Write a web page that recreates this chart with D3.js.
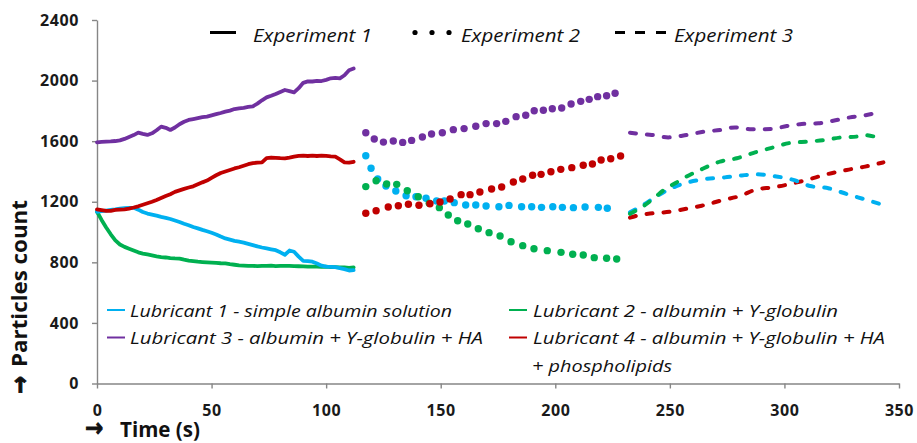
<!DOCTYPE html>
<html><head><meta charset="utf-8">
<script src="https://cdn.jsdelivr.net/npm/d3@7"></script>
<style>
html,body{margin:0;padding:0;background:#fff;}
svg{display:block;}
</style></head>
<body>
<svg id="chart" width="917" height="443"></svg>
<script>
// ---------------- DATA ----------------
const xTicks = [0, 50, 100, 150, 200, 250, 300, 350];
const yTicks = [0, 400, 800, 1200, 1600, 2000, 2400];
const lubricants = ["Lubricant 1 - simple albumin solution", "Lubricant 2 - albumin + Υ-globulin",
  "Lubricant 3 - albumin + Υ-globulin + HA", "Lubricant 4 - albumin + Υ-globulin + HA"];
const lubricant4Extra = "+ phospholipids";
const experiments = ["Experiment 1", "Experiment 2", "Experiment 3"];
const colors = ["#00B0F0", "#00B050", "#7030A0", "#C00000"];
const yTitle = "Particles count";
const xTitle = "Time (s)";

// Experiment 1 (continuous trace), common time axis (s)
const exp1Time = [0,2,4,6,8,10,12,14,16,18,20,22,24,26,28,30,32,34,36,38,40,42,44,46,48,50,52,54,56,58,60,62,64,66,68,70,72,74,76,78,80,82,84,86,88,90,92,94,96,98,100,102,104,106,108,110,112];
const exp1L1 = [1134,1138,1142,1146,1150,1155,1158,1160,1160,1148,1132,1122,1115,1108,1100,1094,1086,1076,1066,1055,1045,1033,1024,1014,1005,995,984,970,958,950,942,936,930,922,914,905,898,892,886,880,866,850,878,870,838,810,808,804,792,778,772,770,768,762,755,746,748];
const exp1L2 = [1134,1080,1030,985,945,918,902,890,878,866,858,852,846,840,835,832,828,826,825,818,812,808,804,802,800,798,796,794,793,788,784,780,778,776,777,775,776,776,778,775,776,777,776,775,774,773,772,772,771,770,771,769,768,767,766,764,766];
const exp1L3 = [1592,1595,1597,1598,1601,1605,1615,1628,1640,1656,1648,1641,1652,1672,1696,1688,1674,1690,1712,1728,1740,1746,1752,1758,1762,1770,1778,1786,1795,1802,1812,1817,1820,1826,1830,1848,1870,1889,1900,1912,1925,1938,1930,1922,1950,1985,1995,1994,1998,1997,2005,2015,2018,2015,2035,2068,2080];
const exp1L4 = [1150,1145,1140,1140,1146,1148,1150,1155,1162,1170,1180,1190,1200,1212,1225,1238,1250,1265,1275,1285,1294,1302,1315,1328,1340,1358,1375,1390,1400,1410,1420,1428,1438,1448,1455,1458,1460,1488,1492,1490,1488,1487,1492,1498,1503,1504,1502,1505,1502,1504,1503,1500,1498,1480,1460,1458,1464];

// Experiment 2 (dots): [time, count]
const exp2L1 = [[117.3,1504],[119.6,1421],[122.5,1350],[126.1,1304],[130.4,1271],[134.9,1240],[139.2,1233],[143.6,1223],[148.2,1205],[151.6,1205],[155.9,1194],[160.9,1179],[165.3,1179],[169.8,1172],[175.4,1167],[179.8,1176],[185.3,1167],[189.7,1167],[194,1163],[198.9,1167],[203.1,1163],[207.9,1161],[213,1165],[218.8,1163],[222.7,1157]];
const exp2L2 = [[117.3,1300],[121.8,1339],[126.4,1317],[130.8,1315],[135.4,1273],[140.2,1233],[145,1190],[149.4,1161],[153.3,1113],[157.4,1075],[161.8,1053],[166.4,1022],[171.1,996],[175.9,974],[180.7,936],[185.8,910],[190.7,890],[196.5,877],[202.5,866],[207.6,853],[212.2,848],[217,831],[222.4,827],[226.8,822]];
const exp2L3 = [[117.3,1656],[121,1614],[125,1594],[129.3,1601],[133.4,1592],[137.3,1605],[142,1628],[146,1647],[150.7,1656],[155.5,1676],[160.2,1683],[165.3,1698],[169.8,1716],[174.4,1716],[178.4,1731],[182.9,1762],[187.1,1771],[190.8,1801],[194.8,1804],[198.7,1814],[202.8,1819],[206.9,1845],[211.1,1863],[214.8,1876],[218.5,1894],[222.4,1900],[226.1,1916]];
const exp2L4 = [[117.3,1124],[121.8,1141],[127.1,1165],[131.5,1174],[135.9,1183],[140.5,1177],[145.3,1187],[149.7,1198],[154.1,1218],[158.9,1247],[162.8,1247],[167.1,1264],[172.2,1284],[176.6,1297],[181.7,1330],[185.8,1350],[190.1,1375],[193.8,1381],[198.1,1398],[202.4,1414],[207.2,1425],[212.2,1441],[216.2,1449],[220,1476],[224.2,1484],[228.5,1502]];

// Experiment 3 (dashed trace): [time, count]
const exp3L1 = [[232.6,1130],[238.4,1179],[243.5,1229],[250,1284],[257.3,1326],[264.6,1348],[274,1361],[281.4,1374],[287.9,1381],[295.1,1370],[303.9,1344],[311.2,1304],[319.2,1289],[327.2,1251],[335.9,1212],[342.9,1179]];
const exp3L2 = [[232.6,1120],[239.2,1179],[243.5,1229],[247.9,1284],[252.3,1322],[256.6,1361],[263.2,1410],[271.9,1465],[279.2,1487],[287.2,1526],[295.1,1559],[303.2,1590],[310.4,1597],[317.7,1608],[325,1625],[331.5,1630],[334.4,1641],[341,1623]];
const exp3L3 = [[232.6,1656],[237,1647],[242.1,1641],[249.3,1625],[257.3,1641],[264.6,1662],[271.9,1674],[278.4,1691],[285.7,1678],[294.4,1680],[301,1700],[307.5,1713],[314.8,1718],[321.3,1735],[328.6,1757],[335.9,1773],[342.4,1795]];
const exp3L4 = [[232.6,1095],[237,1113],[242.8,1124],[250,1134],[256.6,1152],[263.9,1174],[273.3,1212],[280.6,1238],[287.9,1282],[295.1,1295],[302.4,1317],[309.7,1344],[318.4,1381],[327.2,1410],[335.2,1432],[343.2,1460]];

// ---------------- DRAW ----------------
const svg = d3.select("#chart");
const x = d3.scaleLinear().domain([0, 350]).range([97, 899]);
const y = d3.scaleLinear().domain([0, 2400]).range([383.5, 20]);
const axisColor = "#868686";
const FONT = "'Open Sans', 'Noto Sans', sans-serif";

// axes
const gx = svg.append("g").attr("transform", `translate(0,${y(0)})`)
  .call(d3.axisBottom(x).tickValues(xTicks).tickFormat(d3.format("d")).tickSize(5).tickPadding(16).tickSizeOuter(0));
const gy = svg.append("g").attr("transform", `translate(${x(0)},0)`)
  .call(d3.axisLeft(y).tickValues(yTicks).tickFormat(d3.format("d")).tickSize(5).tickPadding(13).tickSizeOuter(0));
[gx, gy].forEach(g => {
  g.select(".domain").attr("stroke", axisColor).attr("stroke-width", 1.4);
  g.selectAll(".tick line").attr("stroke", axisColor).attr("stroke-width", 1.4);
  g.selectAll(".tick text").attr("fill", "#1a1a1a").style("font-family", FONT)
    .style("font-weight", "700").style("font-size", "16px").style("letter-spacing", "0.6px");
});

// experiment 1 lines
const line1 = d3.line().x((d, i) => x(exp1Time[i])).y(d => y(d)).curve(d3.curveLinear);
const exp1 = [exp1L2, exp1L1, exp1L4, exp1L3];
const exp1Col = [colors[1], colors[0], colors[3], colors[2]];
exp1.forEach((s, k) => {
  svg.append("path").attr("d", line1(s)).attr("fill", "none")
    .attr("stroke", exp1Col[k]).attr("stroke-width", 3.8)
    .attr("stroke-linejoin", "round").attr("stroke-linecap", "round");
});

// experiment 2 dots
const exp2 = [exp2L1, exp2L2, exp2L4, exp2L3];
const exp2Col = [colors[0], colors[1], colors[3], colors[2]];
exp2.forEach((s, k) => {
  svg.append("g").selectAll("circle").data(s).join("circle")
    .attr("cx", d => x(d[0])).attr("cy", d => y(d[1])).attr("r", 3.7)
    .attr("fill", exp2Col[k]);
});

// experiment 3 dashed lines
const line3 = d3.line().x(d => x(d[0])).y(d => y(d[1])).curve(d3.curveMonotoneX);
const exp3 = [exp3L4, exp3L1, exp3L2, exp3L3];
const exp3Col = [colors[3], colors[0], colors[1], colors[2]];
exp3.forEach((s, k) => {
  svg.append("path").attr("d", line3(s)).attr("fill", "none")
    .attr("stroke", exp3Col[k]).attr("stroke-width", 4)
    .attr("stroke-linecap", "round").attr("stroke-dasharray", "6 11");
});

// top legend (experiments)
const tl = svg.append("g");
tl.append("line").attr("x1", 210).attr("x2", 236).attr("y1", 32.5).attr("y2", 32.5)
  .attr("stroke", "#000").attr("stroke-width", 3);
[415, 432, 449].forEach(cx => tl.append("circle").attr("cx", cx).attr("cy", 32.5).attr("r", 2.6).attr("fill", "#000"));
[[615, 625], [635, 645], [656, 666]].forEach(s => tl.append("line").attr("x1", s[0]).attr("x2", s[1])
  .attr("y1", 32.5).attr("y2", 32.5).attr("stroke", "#000").attr("stroke-width", 3));
[[253, experiments[0]], [461, experiments[1]], [674, experiments[2]]].forEach(p => {
  tl.append("text").attr("x", p[0]).attr("y", 41.5).text(p[1])
    .attr("textLength", 119).attr("lengthAdjust", "spacingAndGlyphs")
    .style("font-family", FONT).style("font-style", "italic").style("font-size", "18px").attr("fill", "#111");
});

// bottom legend (lubricants)
const bl = svg.append("g");
const items = [
  {c: colors[0], t: lubricants[0], lx: 107, tx: 130, y: 316.5, w: 322},
  {c: colors[1], t: lubricants[1], lx: 509, tx: 533, y: 316.5, w: 305},
  {c: colors[2], t: lubricants[2], lx: 107, tx: 130, y: 344, w: 353},
  {c: colors[3], t: lubricants[3], lx: 509, tx: 533, y: 344, w: 352},
  {c: null, t: lubricant4Extra, lx: 0, tx: 532, y: 371.5, w: 140}
];
items.forEach(it => {
  if (it.c) bl.append("line").attr("x1", it.lx).attr("x2", it.lx + 18).attr("y1", it.y - 6.5).attr("y2", it.y - 6.5)
    .attr("stroke", it.c).attr("stroke-width", 2);
  bl.append("text").attr("x", it.tx).attr("y", it.y).text(it.t)
    .attr("textLength", it.w).attr("lengthAdjust", "spacingAndGlyphs")
    .style("font-family", FONT).style("font-style", "italic").style("font-size", "17px").attr("fill", "#111");
});

// axis titles (large bold arrow glyph)
const ARROWFONT = "'DejaVu Sans', sans-serif";
function arrow(sel) {
  return sel.text("→").attr("textLength", 18).attr("lengthAdjust", "spacingAndGlyphs")
    .style("font-family", ARROWFONT).style("font-weight", "700").style("font-size", "25px")
    .attr("fill", "#111").attr("stroke", "#111").attr("stroke-width", 1);
}
arrow(svg.append("text").attr("transform", "translate(28,394) rotate(-90)"));
svg.append("text").attr("transform", "translate(27,367) rotate(-90)").text(yTitle)
  .attr("textLength", 167).attr("lengthAdjust", "spacingAndGlyphs")
  .style("font-family", FONT).style("font-weight", "700").style("font-size", "21px").attr("fill", "#111");
arrow(svg.append("text").attr("x", 85).attr("y", 436));
svg.append("text").attr("x", 120).attr("y", 437).text(xTitle)
  .attr("textLength", 80).attr("lengthAdjust", "spacingAndGlyphs")
  .style("font-family", FONT).style("font-weight", "700").style("font-size", "21px").attr("fill", "#111");
</script>
</body></html>
